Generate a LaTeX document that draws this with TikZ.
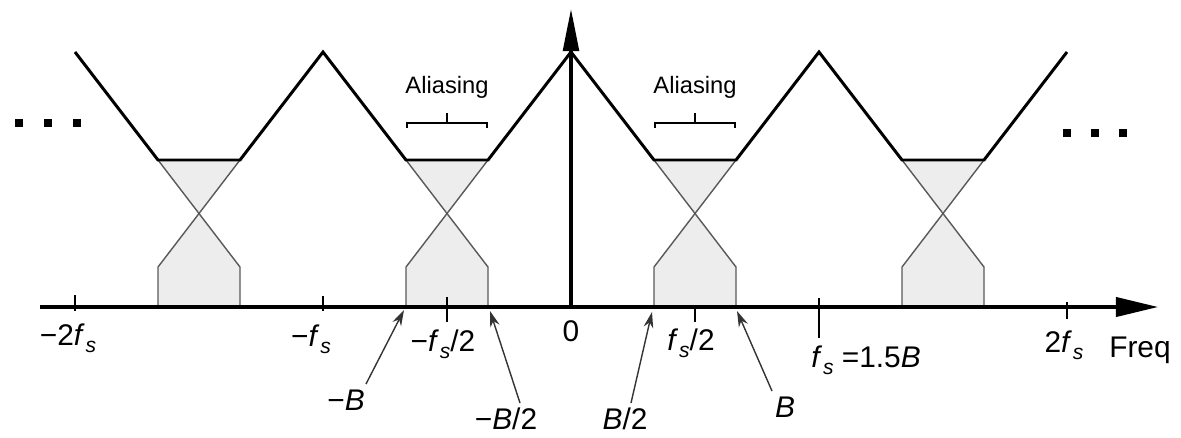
\documentclass[tikz,border=0pt]{standalone}
\usepackage{fontspec}
\setmainfont{Liberation Sans}
\usetikzlibrary{arrows.meta}
\newcommand{\fsub}{\textit{f}\kern0.5pt\raisebox{-0.45ex}{\fontsize{12}{12}\selectfont\itshape s}}
\tikzset{
  envelope/.style={line width=1.7pt, line join=miter},
  thinline/.style={line width=0.8pt, draw=black!65},
  shade/.style={fill=black!7},
  axisline/.style={line width=1.8pt},
  tick/.style={line width=1.4pt},
  lbl/.style={font=\fontsize{17}{20}\selectfont, inner sep=0pt},
  alias/.style={font=\fontsize{13.5}{16}\selectfont, inner sep=0pt},
  ptr/.style={line width=0.8pt, draw=black!80, -{Stealth[length=9pt,width=5.5pt]}},
  dot/.style={fill=black, inner sep=0pt, minimum size=4.5pt, rectangle},
}
\begin{document}
\begin{tikzpicture}[x=0.02cm, y=-0.02cm]
\useasboundingbox (0,0) rectangle (1181,437);
% aliasing regions: shading and thin crossing lines
\foreach \m in {199,447,695,943}{
  \fill[shade] (\m-41,160) -- (\m+41,160) -- (\m,213) -- cycle;
  \fill[shade] (\m-41,307) -- (\m-41,267) -- (\m,213) -- (\m+41,267) -- (\m+41,307) -- cycle;
  \draw[thinline] (\m-41,160) -- (\m+41,267) -- (\m+41,307);
  \draw[thinline] (\m+41,160) -- (\m-41,267) -- (\m-41,307);
}
% envelope
\draw[envelope] (75,52) -- (158,160) -- (240,160) -- (323,52) -- (406,160) -- (488,160)
  -- (571,52) -- (654,160) -- (736,160) -- (819,52) -- (902,160) -- (984,160) -- (1067,52);
% axes
\coordinate (xs) at (40,307);
\coordinate (xe) at (1158,307);
\coordinate (o) at (571,307);
\coordinate (ye) at (571,9);
\draw[axisline, -{Triangle[length=24pt,width=11pt]}] (xs) -- (xe);
\draw[axisline, -{Triangle[length=24pt,width=9pt]}] (o) -- (ye);
% ticks
\draw[tick] (75,295) -- (75,311);
\draw[tick] (323,296) -- (323,311);
\draw[tick] (447,297) -- (447,322);
\draw[tick] (695,307) -- (695,322);
\draw[tick] (819,298) -- (819,338);
\draw[tick] (1067,302) -- (1067,319);
% axis labels
\node[lbl] (m2fs) at (68,338) {−2\fsub};
\node[lbl] (mfs) at (311,339) {−\fsub};
\node[lbl] (mfs2) at (443,344) {−\fsub/2};
\node[lbl] (zero) at (571,331) {0};
\node[lbl] (fs2) at (691,343) {\fsub/2};
\node[lbl] (fsB) at (866,360) {\fsub{} =1.5\textit{B}};
\node[lbl] (tfs) at (1064,345) {2\fsub};
\node[lbl] (freq) at (1140,350) {Freq};
% B labels with pointers
\node[lbl] (mB) at (346,400) {−\textit{B}};
\node[lbl] (mB2) at (506,419) {−\textit{B}/2};
\node[lbl] (B2) at (625,419) {\textit{B}/2};
\node[lbl] (B) at (785,407) {\textit{B}};
\coordinate (pmB) at (404,310);
\coordinate (pmB2) at (490,311);
\coordinate (pB2) at (652,312);
\coordinate (pB) at (737,311);
\draw[ptr] (366,384) -- (pmB);
\draw[ptr] (520,403) -- (pmB2);
\draw[ptr] (631,403) -- (pB2);
\draw[ptr] (772,391) -- (pB);
% aliasing labels and brackets
\node[alias] (al1) at (447,87) {Aliasing};
\node[alias] (al2) at (695,87) {Aliasing};
\draw[line width=1.3pt] (407,128) -- (407,123) -- (487,123) -- (487,128);
\draw[line width=1.3pt] (447,123) -- (447,113);
\draw[line width=1.3pt] (655,128) -- (655,123) -- (735,123) -- (735,128);
\draw[line width=1.3pt] (695,123) -- (695,113);
% continuation dots
\node[dot] (d1) at (19,123) {};
\node[dot] (d2) at (48,123) {};
\node[dot] (d3) at (77,123) {};
\node[dot] (d4) at (1067,133) {};
\node[dot] (d5) at (1095,133) {};
\node[dot] (d6) at (1123,133) {};
\end{tikzpicture}
\end{document}
